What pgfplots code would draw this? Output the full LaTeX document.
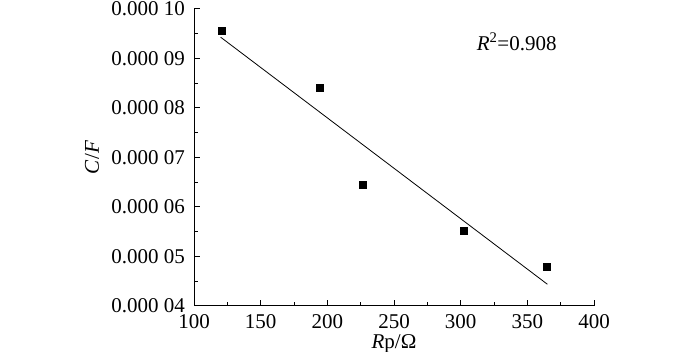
\documentclass[border=0pt]{standalone}
\usepackage{pgfplots}
\pgfplotsset{compat=1.18}
\usepackage{fontspec}
\setmainfont{Liberation Serif}
\begin{document}
\fontsize{21}{25}\selectfont
\begin{tikzpicture}
\path[use as bounding box] (-194pt,-46pt) rectangle (506pt,306pt);
\begin{axis}[
  at={(0,0)}, anchor=south west,
  scale only axis, width=400pt, height=297pt,
  xmin=100, xmax=400, ymin=0.00004, ymax=0.0001,
  axis lines*=left,
  axis line style={line width=1pt},
  tick style={line width=1pt, black},
  tick align=inside,
  major tick length=6pt, minor tick length=3.5pt,
  xtick={100,150,...,400},
  minor x tick num=1,
  ytick={0.00004,0.00005,0.00006,0.00007,0.00008,0.00009,0.0001},
  yticklabels={0.000 04,0.000 05,0.000 06,0.000 07,0.000 08,0.000 09,0.000 10},
  minor y tick num=1,
  scaled y ticks=false,
  /pgf/number format/assume math mode=true,
  ticklabel style={font=\fontsize{21}{25}\selectfont},
  xticklabel style={yshift=-1pt},
  yticklabel style={xshift=-2pt},
  xlabel={\textit{R}p/Ω},
  ylabel={\textit{C}/\textit{F}},
  label style={font=\fontsize{21}{25}\selectfont},
  xlabel style={yshift=8pt},
  ylabel style={yshift=-2pt},
  clip=false,
]
\addplot[only marks, mark=square*, mark size=3.5pt, black] coordinates {
  (120.5,0.0000957) (194.1,0.0000842) (226.3,0.0000645) (301.9,0.0000553) (364.3,0.0000479)
};
\addplot[black, line width=0.8pt] coordinates {(120,0.0000943) (365,0.0000444)};
\node at (axis cs:342,0.0000934) {\textit{R}\textsuperscript{2}=0.908};
\end{axis}
\end{tikzpicture}
\end{document}
